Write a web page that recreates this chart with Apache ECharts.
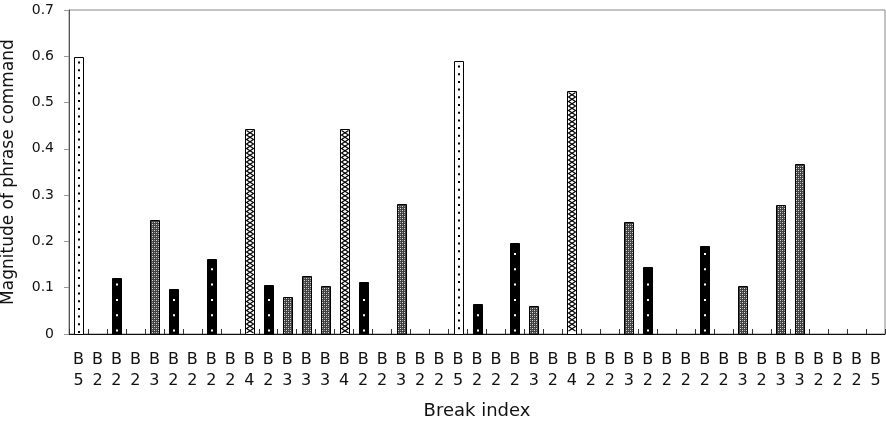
<!DOCTYPE html>
<html>
<head>
<meta charset="utf-8">
<script src="https://cdn.jsdelivr.net/npm/echarts@6/dist/echarts.min.js"></script>
<style>
  html, body { margin: 0; padding: 0; background: #fff; }
  #chart { width: 886px; height: 421px; }
</style>
</head>
<body>
<div id="chart"></div>
<script>
// Break index of each boundary (x categories)
const breakIndex = [
  'B5','B2','B2','B2','B3','B2','B2','B2','B2','B4',
  'B2','B3','B3','B3','B4','B2','B2','B3','B2','B2',
  'B5','B2','B2','B2','B3','B2','B4','B2','B2','B3',
  'B2','B2','B2','B2','B2','B3','B2','B3','B3','B2',
  'B2','B2','B5'
];
// Magnitude of the phrase command at each boundary
const magnitude = [
  0.598, 0, 0.120, 0, 0.246, 0.097, 0, 0.161, 0, 0.442,
  0.105, 0.081, 0.125, 0.103, 0.442, 0.113, 0, 0.280, 0, 0,
  0.590, 0.065, 0, 0.197, 0.061, 0, 0.525, 0, 0, 0.243,
  0.144, 0, 0, 0.191, 0, 0.104, 0, 0.279, 0.367, 0,
  0, 0, 0
];
const yTicks = [0, 0.1, 0.2, 0.3, 0.4, 0.5, 0.6, 0.7];

// fine dotted texture used for B3 bars
const texture = document.createElement('canvas');
texture.width = 4; texture.height = 4;
(function () {
  const g = texture.getContext('2d');
  g.fillStyle = '#404040';
  g.fillRect(0, 0, 4, 4);
  g.fillStyle = '#e0e0e0';
  g.fillRect(0, 0, 1, 1);
  g.fillRect(2, 2, 1, 1);
  g.fillStyle = '#999';
  g.fillRect(2, 0, 1, 1);
  g.fillRect(0, 2, 1, 1);
})();

function renderBar(params, api) {
  const i = api.value(0);
  const v = api.value(1);
  if (!(v > 0)) return null;
  const kind = breakIndex[i];
  const top = api.coord([i, v]);
  const base = api.coord([i, 0]);
  const w = 9;
  const x = Math.round(top[0] - w / 2) + 0.5;
  const y = Math.round(top[1]) + 0.5;
  const h = Math.round(base[1]) - Math.round(top[1]);
  const cx = x + w / 2;
  const children = [];
  let fill = '#fff';
  if (kind === 'B2') fill = '#000';
  if (kind === 'B3') fill = { type: 'pattern', image: texture, repeat: 'repeat' };
  children.push({
    type: 'rect',
    shape: { x: x, y: y, width: w, height: h },
    style: { fill: fill, stroke: '#000', lineWidth: 1 }
  });
  if (kind === 'B5') {
    for (let yy = y + 5; yy < y + h - 1; yy += 7.7) {
      children.push({ type: 'rect', shape: { x: cx - 1, y: yy - 1, width: 2, height: 2 }, style: { fill: '#000' } });
    }
  } else if (kind === 'B2') {
    for (let yy = y + h - 4; yy > y + 4; yy -= 15.3) {
      children.push({ type: 'rect', shape: { x: cx - 1, y: yy - 1, width: 2, height: 2 }, style: { fill: '#fff' } });
    }
  } else if (kind === 'B4') {
    const ptsA = [], ptsB = [];
    const l = x + 1, r = x + w - 1;
    let k = 0;
    for (let yy = y + 1; yy <= y + h - 1; yy += 4.5, k++) {
      ptsA.push([k % 2 ? r : l, yy]);
      ptsB.push([k % 2 ? l : r, yy]);
    }
    children.push({ type: 'polyline', shape: { points: ptsA }, style: { stroke: '#000', lineWidth: 1.2, fill: null } });
    children.push({ type: 'polyline', shape: { points: ptsB }, style: { stroke: '#000', lineWidth: 1.2, fill: null } });
  }
  return { type: 'group', children: children };
}

const chart = echarts.init(document.getElementById('chart'), null, { renderer: 'canvas' });
const font = 'DejaVu Sans, Verdana, sans-serif';
chart.setOption({
  animation: false,
  backgroundColor: '#fff',
  textStyle: { fontFamily: font },
  grid: {
    left: 69, right: 1, top: 10, bottom: 87,
    containLabel: false,
    outerBoundsMode: 'none',
    show: true, borderColor: '#888', borderWidth: 1, backgroundColor: 'transparent'
  },
  xAxis: {
    type: 'category',
    data: breakIndex,
    name: 'Break index',
    nameLocation: 'middle',
    nameGap: 68,
    nameTextStyle: { fontSize: 18, color: '#111', fontFamily: font },
    axisLine: { show: true, lineStyle: { color: '#111', width: 1 } },
    axisTick: { show: true, inside: true, length: 5, lineStyle: { color: '#333' } },
    axisLabel: {
      interval: 0, margin: 15, fontSize: 16, color: '#111', lineHeight: 21, fontFamily: font,
      formatter: function (s) { return s.charAt(0) + '\n' + s.slice(1); }
    },
    splitLine: { show: false }
  },
  yAxis: {
    type: 'value',
    min: 0, max: 0.7, interval: 0.1,
    name: 'Magnitude of phrase command',
    nameLocation: 'middle',
    nameGap: 52,
    nameRotate: 90,
    nameTextStyle: { fontSize: 17, color: '#111', fontFamily: font },
    axisLine: { show: true, lineStyle: { color: '#555', width: 1 } },
    axisTick: { show: true, inside: false, length: 5, lineStyle: { color: '#999' } },
    axisLabel: {
      margin: 15, fontSize: 14, color: '#111', fontFamily: font,
      formatter: function (v) {
        const t = yTicks.find(function (q) { return Math.abs(q - v) < 1e-9; });
        return t === 0 ? '0' : (t !== undefined ? t.toFixed(1) : '');
      }
    },
    splitLine: { show: false }
  },
  series: [{
    type: 'custom',
    renderItem: renderBar,
    data: magnitude.map(function (v, i) { return [i, v]; }),
    encode: { x: 0, y: 1 },
    z: 3
  }]
});
</script>
</body>
</html>
